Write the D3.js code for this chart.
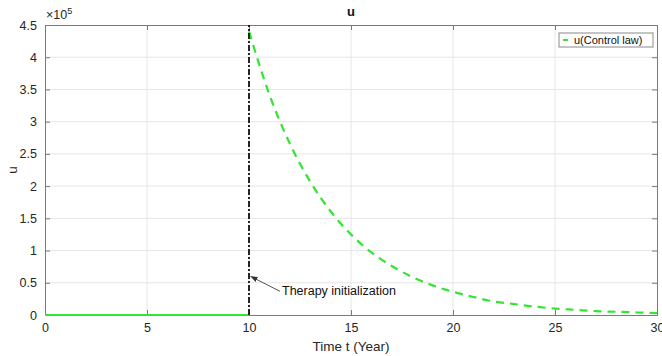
<!DOCTYPE html>
<html>
<head>
<meta charset="utf-8">
<script src="https://cdn.jsdelivr.net/npm/d3@7"></script>
<style>
  body { margin: 0; background: #fff; }
  text { font-family: "Liberation Sans", Arial, sans-serif; }
</style>
</head>
<body>
<div id="chart"></div>
<script>
// data (u in units of 1e5)
const offTime = [0, 10];
const offU = [0, 0];
const therapyTime = [10, 11, 12, 13, 14, 15, 16, 17, 18, 19, 20, 21, 22, 23, 24, 25, 26, 27, 28, 29, 30];
const therapyU = [4.40, 3.42, 2.66, 2.07, 1.61, 1.25, 0.97, 0.76, 0.59, 0.46, 0.36, 0.28, 0.21, 0.17, 0.13, 0.10, 0.08, 0.06, 0.05, 0.04, 0.03];
const xTicks = [0, 5, 10, 15, 20, 25, 30];
const yTicks = [0, 0.5, 1, 1.5, 2, 2.5, 3, 3.5, 4, 4.5];
const therapyStart = 10;

// 1: SVG
const W = 662, H = 356;
const margin = { top: 25, right: 5, bottom: 41, left: 45 },
      width = W - margin.left - margin.right,
      height = H - margin.top - margin.bottom;

const svg = d3.select("#chart").append("svg")
    .attr("width", W).attr("height", H);
const g = svg.append("g")
    .attr("transform", `translate(${margin.left},${margin.top})`);

// 2: scales
const x = d3.scaleLinear().domain([0, 30]).range([0, width]);
const y = d3.scaleLinear().domain([0, 4.5]).range([height, 0]);

// 3: grid
g.append("g").selectAll("line").data(xTicks.slice(1, -1)).enter().append("line")
    .attr("x1", d => x(d)).attr("x2", d => x(d))
    .attr("y1", 0).attr("y2", height)
    .attr("stroke", "#e6e6e6").attr("stroke-width", 1);
g.append("g").selectAll("line").data(yTicks.slice(1, -1)).enter().append("line")
    .attr("y1", d => y(d)).attr("y2", d => y(d))
    .attr("x1", 0).attr("x2", width)
    .attr("stroke", "#e6e6e6").attr("stroke-width", 1);

// 4: axes (MATLAB style, ticks inside, box on)
const axisColor = "#7a7a7a";
function styleAxis(sel, hideText) {
    sel.selectAll("path").attr("stroke", axisColor);
    sel.selectAll("line").attr("stroke", axisColor);
    sel.selectAll("text").attr("fill", "#262626").attr("font-size", 12.5);
    if (hideText) sel.selectAll("text").remove();
}
g.append("g").attr("transform", `translate(0,${height})`)
    .call(d3.axisBottom(x).tickValues(xTicks).tickSizeInner(-5).tickSizeOuter(0).tickPadding(8))
    .call(s => styleAxis(s));
g.append("g")
    .call(d3.axisTop(x).tickValues(xTicks).tickSizeInner(-5).tickSizeOuter(0))
    .call(s => styleAxis(s, true));
g.append("g")
    .call(d3.axisLeft(y).tickValues(yTicks).tickFormat(d3.format("~g")).tickSizeInner(-5).tickSizeOuter(0).tickPadding(8))
    .call(s => styleAxis(s));
g.append("g").attr("transform", `translate(${width},0)`)
    .call(d3.axisRight(y).tickValues(yTicks).tickSizeInner(-5).tickSizeOuter(0))
    .call(s => styleAxis(s, true));

// exponent label
const expo = svg.append("text")
    .attr("x", margin.left + 1).attr("y", 19)
    .attr("font-size", 12.5).attr("fill", "#262626");
expo.append("tspan").text("×10");
expo.append("tspan").attr("font-size", 9).attr("dy", -5).text("5");

// 5: lines
const green = "#33e533";
const line = d3.line().x(d => x(d[0])).y(d => y(d[1]));
const lineSmooth = d3.line().x(d => x(d[0])).y(d => y(d[1])).curve(d3.curveMonotoneX);

g.append("path")
    .datum(offTime.map((t, i) => [t, offU[i]]))
    .attr("d", line)
    .attr("fill", "none").attr("stroke", green).attr("stroke-width", 2);

g.append("path")
    .datum(therapyTime.map((t, i) => [t, therapyU[i]]))
    .attr("d", lineSmooth)
    .attr("fill", "none").attr("stroke", green).attr("stroke-width", 2.2)
    .attr("stroke-dasharray", "8,6");

// therapy start line (dash-dot)
g.append("line")
    .attr("x1", x(therapyStart)).attr("x2", x(therapyStart))
    .attr("y1", y(0)).attr("y2", y(4.5))
    .attr("stroke", "#111").attr("stroke-width", 1.8)
    .attr("stroke-dasharray", "6,2,2,2");

// annotation arrow
const ax0 = x(therapyStart) + 1.5, ay0 = y(0.6);
const ax1 = x(therapyStart) + 31, ay1 = ay0 + 15;
svg.append("defs").append("marker")
    .attr("id", "arrow").attr("viewBox", "0 0 10 10")
    .attr("refX", 10).attr("refY", 5)
    .attr("markerWidth", 7).attr("markerHeight", 7)
    .attr("orient", "auto-start-reverse")
    .append("path").attr("d", "M0,1 L10,5 L0,9 Z").attr("fill", "#333");
g.append("line")
    .attr("x1", ax1).attr("y1", ay1).attr("x2", ax0).attr("y2", ay0)
    .attr("stroke", "#555").attr("stroke-width", 1)
    .attr("marker-end", "url(#arrow)");
g.append("text")
    .attr("x", ax1 + 2).attr("y", ay1 + 4)
    .attr("font-size", 12.5).attr("fill", "#111")
    .text("Therapy initialization");

// 6: labels
svg.append("text")
    .attr("x", margin.left + width / 2).attr("y", 16)
    .attr("text-anchor", "middle").attr("font-weight", "bold")
    .attr("font-size", 13).attr("fill", "#111")
    .text("u");
svg.append("text")
    .attr("x", margin.left + width / 2).attr("y", 351)
    .attr("text-anchor", "middle").attr("font-size", 13.5).attr("fill", "#262626")
    .text("Time t (Year)");
svg.append("text")
    .attr("transform", `translate(17,${margin.top + height / 2}) rotate(-90)`)
    .attr("text-anchor", "middle").attr("font-size", 13.5).attr("fill", "#262626")
    .text("u");

// 7: legend
const lg = g.append("g").attr("transform", `translate(${x(25) + 4},${8})`);
lg.append("rect")
    .attr("width", 94).attr("height", 14)
    .attr("fill", "#fff").attr("stroke", "#8a8a8a").attr("stroke-width", 1);
lg.append("line")
    .attr("x1", 4).attr("x2", 9).attr("y1", 7).attr("y2", 7)
    .attr("stroke", green).attr("stroke-width", 2);
lg.append("text")
    .attr("x", 15).attr("y", 11)
    .attr("font-size", 11).attr("fill", "#111")
    .text("u(Control law)");
</script>
</body>
</html>
